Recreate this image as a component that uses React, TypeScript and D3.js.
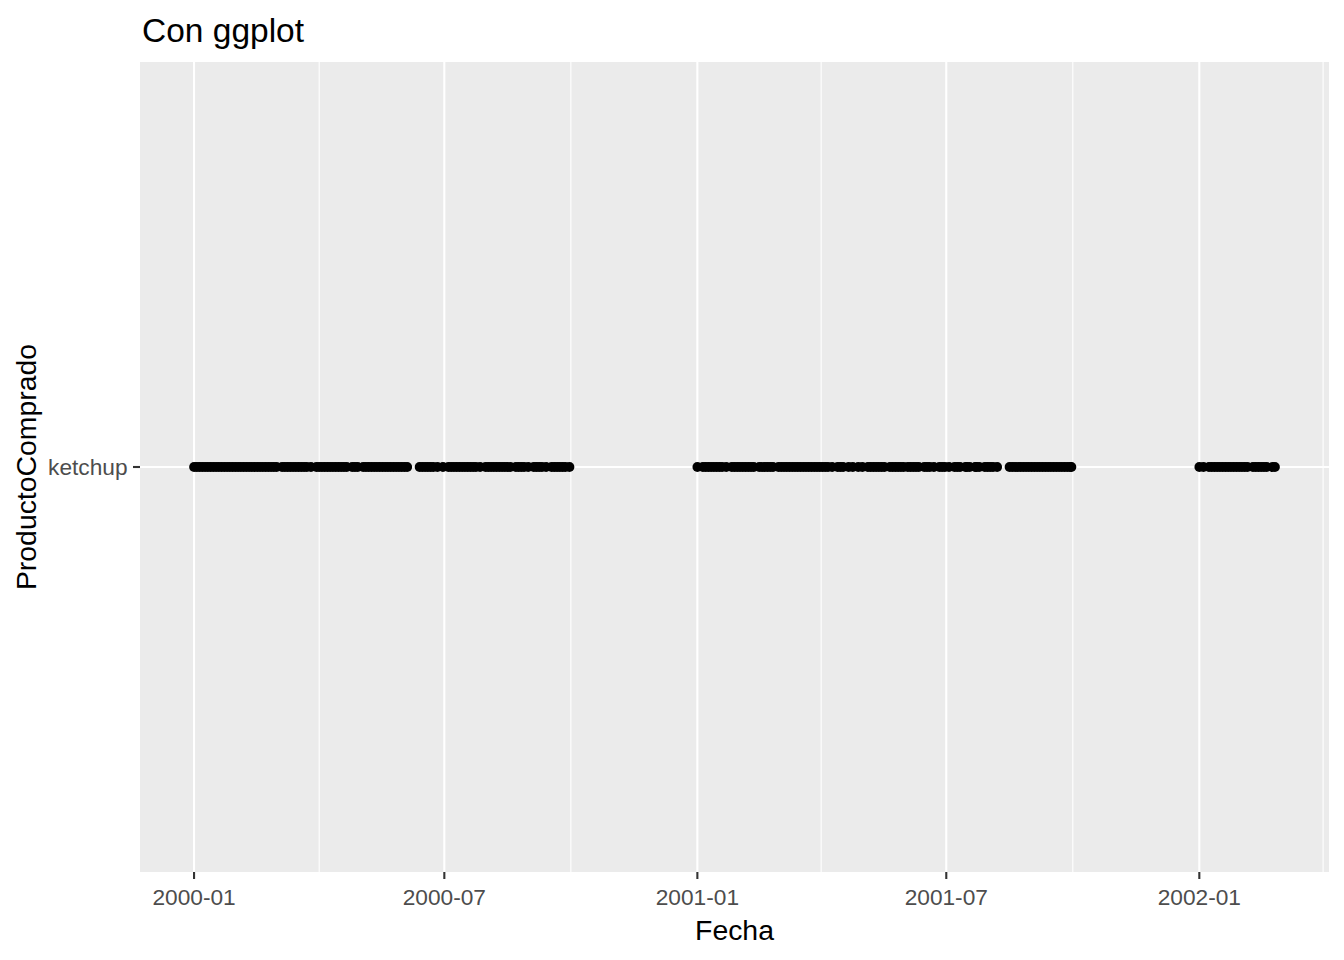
import React from "react";
import * as d3 from "d3";

// Purchase dates (day of month listed per month)
const product = "ketchup";
const purchases2000: [number, number[]][] = [
  [1, [1, 3, 5, 7, 9, 11, 13, 15, 17, 19, 21, 23, 25, 27, 29, 31]],
  [2, [2, 4, 6, 8, 10, 12, 14, 16, 18, 20, 22, 24, 26, 28]],
  [3, [1, 5, 7, 9, 11, 13, 15, 17, 19, 21, 23, 26, 30]],
  [4, [1, 3, 5, 7, 9, 11, 13, 15, 17, 19, 21, 25, 27, 29]],
  [5, [3, 5, 7, 9, 11, 13, 15, 17, 19, 21, 23, 25, 27, 29, 31]],
  [6, [2, 4, 13, 15, 17, 19, 21, 23, 26, 30]],
  [7, [4, 6, 8, 10, 12, 14, 16, 18, 20, 22, 24, 27, 31]],
  [8, [2, 4, 6, 8, 10, 12, 14, 16, 18, 22, 24, 26, 28, 31]],
  [9, [4, 6, 8, 10, 13, 17, 19, 21, 23, 25, 27, 30]],
];
const purchases2001: [number, number[]][] = [
  [1, [1, 5, 7, 9, 11, 13, 15, 17, 19, 22, 26, 28, 30]],
  [2, [1, 3, 5, 7, 9, 11, 15, 17, 19, 21, 23, 25]],
  [3, [1, 3, 5, 7, 9, 11, 13, 15, 17, 19, 21, 23, 25, 27, 29, 31]],
  [4, [2, 4, 6, 9, 13, 15, 17, 21, 24, 28]],
  [5, [1, 5, 7, 9, 11, 13, 15, 17, 21, 23, 25, 27, 29, 31]],
  [6, [3, 5, 7, 9, 11, 15, 17, 19, 22, 26, 28, 30]],
  [7, [3, 7, 9, 11, 15, 16, 18, 22, 23, 25, 29, 31]],
  [8, [2, 4, 7, 16, 18, 20, 22, 24, 26, 28, 30]],
  [9, [1, 3, 5, 7, 9, 11, 13, 15, 17, 19, 21, 23, 25, 27, 29, 30]],
];
const purchases2002: [number, number[]][] = [
  [1, [1, 4, 8, 10, 12, 14, 16, 18, 20, 22, 24, 26, 28, 30]],
  [2, [1, 3, 5, 9, 11, 13, 15, 17, 19, 23, 25]],
];
const majorTicks = ["2000-01", "2000-07", "2001-01", "2001-07", "2002-01"];

const W = 1344;
const H = 960;
const panel = { left: 140, right: 1329, top: 62, bottom: 872 };
const FONT = "'Liberation Sans', Arial, Helvetica, sans-serif";

function expand(year: number, list: [number, number[]][]) {
  const out: Date[] = [];
  list.forEach(([m, days]) => days.forEach((d) => out.push(new Date(year, m - 1, d))));
  return out;
}

const dates: Date[] = [
  ...expand(2000, purchases2000),
  ...expand(2001, purchases2001),
  ...expand(2002, purchases2002),
];

export default function App() {
  const [minD, maxD] = d3.extent(dates) as [Date, Date];
  const span = +maxD - +minD;
  const x = d3
    .scaleTime()
    .domain([new Date(+minD - span * 0.05), new Date(+maxD + span * 0.05)])
    .range([panel.left, panel.right]);
  const y = d3
    .scalePoint<string>()
    .domain([product])
    .range([panel.bottom, panel.top])
    .padding(0.5);

  const parse = d3.timeParse("%Y-%m");
  const majors = majorTicks.map((t) => parse(t) as Date);
  const allMonths = d3.timeMonth.every(3)!.range(x.domain()[0], x.domain()[1]);
  const minors = allMonths.filter((m) => !majors.some((j) => +j === +m));
  const fmt = d3.timeFormat("%Y-%m");
  const yy = y(product)!;

  return (
    <svg width={W} height={H} style={{ display: "block", position: "absolute", left: 0, top: 0 }}>
      <rect x={0} y={0} width={W} height={H} fill="#fff" />
      <rect
        x={panel.left}
        y={panel.top}
        width={panel.right - panel.left}
        height={panel.bottom - panel.top}
        fill="#EBEBEB"
      />
      {minors.map((m, i) => (
        <line key={"mn" + i} x1={x(m)} x2={x(m)} y1={panel.top} y2={panel.bottom} stroke="#fff" strokeWidth={1.1} />
      ))}
      {majors.map((m, i) => (
        <line key={"mj" + i} x1={x(m)} x2={x(m)} y1={panel.top} y2={panel.bottom} stroke="#fff" strokeWidth={2.1} />
      ))}
      <line x1={panel.left} x2={panel.right} y1={yy} y2={yy} stroke="#fff" strokeWidth={2.1} />
      {dates.map((d, i) => (
        <circle key={"p" + i} cx={x(d)} cy={yy} r={4.9} fill="#000" />
      ))}
      {majors.map((m, i) => (
        <g key={"xt" + i}>
          <line x1={x(m)} x2={x(m)} y1={panel.bottom} y2={panel.bottom + 7} stroke="#333" strokeWidth={2.1} />
          <text x={x(m)} y={905} textAnchor="middle" fontFamily={FONT} fontSize={22.7} fill="#4D4D4D">
            {fmt(m)}
          </text>
        </g>
      ))}
      <line x1={panel.left - 7} x2={panel.left} y1={yy} y2={yy} stroke="#333" strokeWidth={2.1} />
      <text x={panel.left - 12.5} y={yy + 8} textAnchor="end" fontFamily={FONT} fontSize={22.7} fill="#4D4D4D">
        {product}
      </text>
      <text
        x={(panel.left + panel.right) / 2}
        y={940}
        textAnchor="middle"
        fontFamily={FONT}
        fontSize={28.4}
        fill="#000"
      >
        Fecha
      </text>
      <text
        transform={`translate(36,${(panel.top + panel.bottom) / 2}) rotate(-90)`}
        textAnchor="middle"
        fontFamily={FONT}
        fontSize={28.4}
        fill="#000"
      >
        ProductoComprado
      </text>
      <text x={142} y={42} fontFamily={FONT} fontSize={33.5} fill="#000">
        Con ggplot
      </text>
    </svg>
  );
}
